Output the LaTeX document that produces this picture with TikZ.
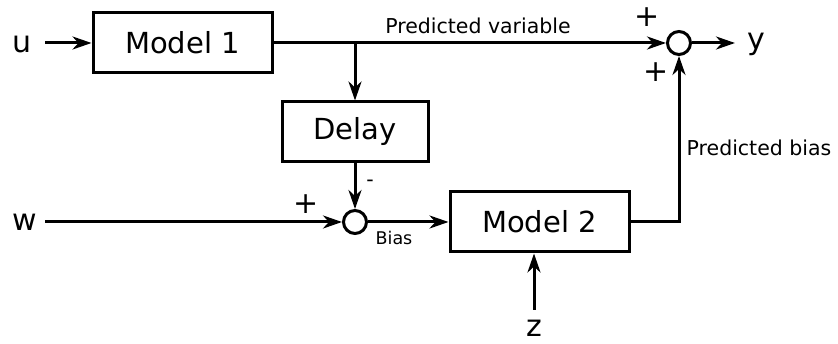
\documentclass[tikz,border=0pt]{standalone}
\usepackage{fontspec}
\setmainfont{DejaVu Sans}
\usetikzlibrary{arrows.meta}
\begin{document}
\begin{tikzpicture}[x=1pt,y=-1pt,
  blk/.style={draw,line width=3pt,minimum width=179pt,minimum height=60pt,inner sep=0pt,font=\fontsize{29}{30}\selectfont},
  sumc/.style={draw,circle,line width=3pt,minimum size=23pt,inner sep=0pt},
  sig/.style={font=\fontsize{30}{30}\selectfont,inner sep=0pt},
  small/.style={font=\fontsize{20.5}{22}\selectfont,inner sep=0pt},
  conn/.style={line width=3pt,-{Stealth[length=19pt,width=13pt,inset=6pt]}}]
\useasboundingbox (0,0) rectangle (838,344);
\node[blk] (m1) at (182.5,43) {Model 1};
\node[blk,minimum width=146pt] (dl) at (355,132) {Delay};
\node[blk] (m2) at (539.5,222) {Model 2};
\node[sumc] (s1) at (679,43) {};
\node[sumc] (s2) at (355,222) {};
\node[sig] (u) at (22,44) {u};
\node[sig] (w) at (25,222) {w};
\node[sig] (y) at (756,44) {y};
\node[sig] (z) at (534,328) {z};
\coordinate (ustart) at (45,43);
\coordinate (wstart) at (45,222);
\coordinate (yend) at (735,43);
\coordinate (zstart) at (534,310);
\coordinate (br) at (dl.north |- m1.east);
\coordinate (cor) at (679,222);
\draw[conn] (ustart) -- (m1.west);
\draw[conn] (m1.east) -- (s1.west);
\draw[conn] (br) -- (dl.north);
\draw[conn] (dl.south) -- (s2.north);
\draw[conn] (wstart) -- (s2.west);
\draw[conn] (s2.east) -- (m2.west);
\draw[conn] (s1.east) -- (yend);
\draw[conn] (zstart) -- (z |- m2.south);
\draw[conn] (m2.east) -- (cor) -- (s1.south);
\node[small] (pv) at (478,26) {Predicted variable};
\node[small] (pb) at (759,148) {Predicted bias};
\node[small,font=\fontsize{17.5}{18}\selectfont] (bias) at (394,238) {Bias};
\node[sig] (p1) at (647,17) {+};
\node[sig] (p2) at (656,72) {+};
\node[sig] (p3) at (306,204) {+};
\node[small] (mn) at (370,183) {-};
\end{tikzpicture}
\end{document}
